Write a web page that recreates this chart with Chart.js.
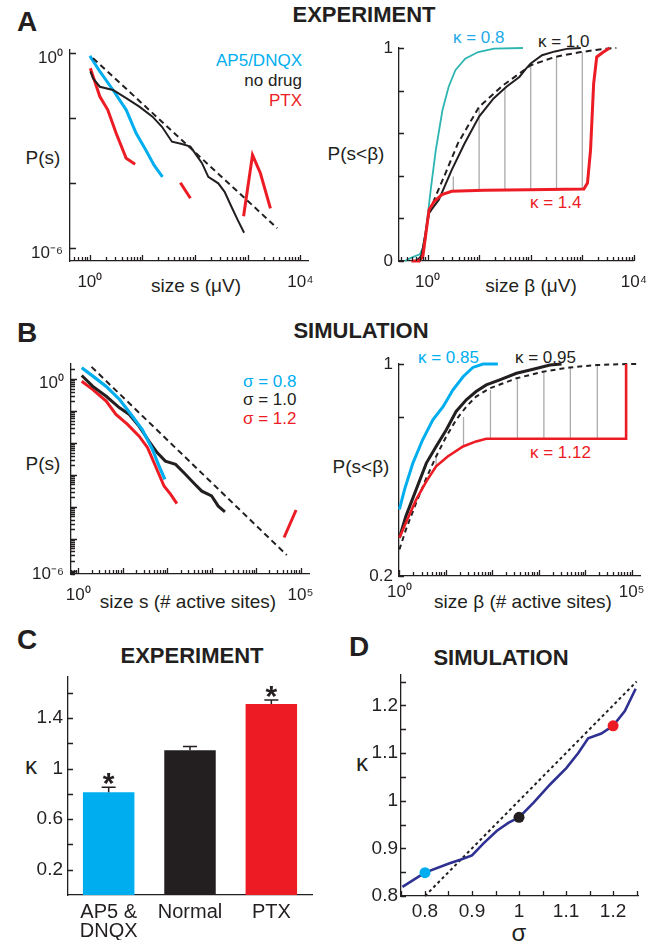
<!DOCTYPE html>
<html>
<head>
<meta charset="utf-8">
<script src="https://cdn.jsdelivr.net/npm/chart.js@4.4.1/dist/chart.umd.min.js"></script>
<style>
  body { margin: 0; background: #fff; width: 658px; height: 942px; position: relative; overflow: hidden;
         font-family: 'Liberation Sans', Arial, Helvetica, sans-serif; color: #231F20; }
  canvas { position: absolute; }
  .t { position: absolute; white-space: nowrap; transform: translate(-50%, -50%); line-height: 1; font-size: 19px; }
  .l { position: absolute; white-space: nowrap; transform: translate(0, -50%); line-height: 1; font-size: 17px; }
  .r { position: absolute; white-space: nowrap; transform: translate(-100%, -50%); line-height: 1; font-size: 17px; }
  .pl { font-weight: bold; font-size: 28px; }
  .ttl { font-weight: bold; font-size: 22px; }
</style>
</head>
<body>

<div class="t pl" style="left:27px;top:22px">A</div>
<div class="t ttl" style="left:364px;top:15px">EXPERIMENT</div>
<div class="t pl" style="left:27px;top:333px">B</div>
<div class="t ttl" style="left:361px;top:331px">SIMULATION</div>
<div class="t pl" style="left:27px;top:640px">C</div>
<div class="t ttl" style="left:192px;top:656px">EXPERIMENT</div>
<div class="t pl" style="left:359px;top:647px">D</div>
<div class="t ttl" style="left:501px;top:658px">SIMULATION</div>

<div class="t" style="left:43px;top:157px">P(s)</div>
<div class="t" style="left:196px;top:285px">size s (μV)</div>
<div class="t" style="left:356px;top:153px">P(s&lt;β)</div>
<div class="t" style="left:531px;top:285px">size β (μV)</div>
<div class="t" style="left:43px;top:463px">P(s)</div>
<div class="t" style="left:188px;top:601px">size s (# active sites)</div>
<div class="t" style="left:361px;top:466px">P(s&lt;β)</div>
<div class="t" style="left:523px;top:601px">size β (# active sites)</div>
<div class="t" style="left:31px;top:766px;font-size:24px">κ</div>
<div class="t" style="left:362px;top:763px;font-size:24px">κ</div>
<div class="t" style="left:519px;top:933px;font-size:24px">σ</div>

<div class="r" style="left:302px;top:60px;color:#00AEEF">AP5/DNQX</div>
<div class="r" style="left:302px;top:80px">no drug</div>
<div class="r" style="left:302px;top:100px;color:#ED1C24">PTX</div>
<div class="l" style="left:453px;top:37px;color:#1EAAE8">κ = 0.8</div>
<div class="l" style="left:538px;top:41px">κ = 1.0</div>
<div class="l" style="left:530px;top:202px;color:#ED1C24">κ = 1.4</div>
<div class="l" style="left:243px;top:381px;color:#00AEEF">σ = 0.8</div>
<div class="l" style="left:243px;top:399px">σ = 1.0</div>
<div class="l" style="left:243px;top:418px;color:#ED1C24">σ = 1.2</div>
<div class="l" style="left:418px;top:357px;color:#00AEEF">κ = 0.85</div>
<div class="l" style="left:515px;top:357px">κ = 0.95</div>
<div class="l" style="left:530px;top:452px;color:#ED1C24">κ = 1.12</div>

<script>
// ---- data (sizes and probabilities in log10 units where the axis is logarithmic) ----
// A, left: P(s), experiment
const fitA_logS = [0.06, 3.56];
const fitA_logP = [-0.16, -5.39];
const apA_logS = [0, 0.19, 0.44, 0.69, 0.88, 1.06, 1.22, 1.38];
const apA_logP = [-0.09, -0.57, -1.14, -1.75, -2.47, -2.98, -3.45, -3.81];
const normA_logS = [0.01, 0.06, 0.19, 0.44, 0.69, 0.94, 1.19, 1.37, 1.56, 1.75, 1.91, 2.0, 2.13, 2.25, 2.44, 2.56, 2.69, 2.81, 2.93];
const normA_logP = [-0.57, -0.78, -1.04, -1.14, -1.39, -1.65, -1.96, -2.27, -2.73, -2.80, -2.88, -3.09, -3.39, -3.81, -4.01, -4.27, -4.73, -5.14, -5.53];
const ptxA_logS1 = [0.01, 0.19, 0.34, 0.5, 0.69, 0.86];
const ptxA_logP1 = [-0.47, -1.34, -1.75, -2.47, -3.24, -3.42];
const ptxA_logS2 = [1.72, 1.91];
const ptxA_logP2 = [-3.99, -4.47];
const ptxA_logS3 = [2.92, 3.09, 3.24, 3.43];
const ptxA_logP3 = [-5.02, -3.14, -3.70, -4.78];

// A, right: P(s<beta), experiment
const apCdf_logB = [-0.44, -0.31, -0.15, -0.09, -0.04, 0.01, 0.07, 0.16, 0.29, 0.41, 0.54, 0.73, 0.98, 1.29, 1.85];
const apCdf = [0, 0.016, 0.031, 0.062, 0.132, 0.226, 0.35, 0.52, 0.709, 0.818, 0.896, 0.95, 0.981, 0.997, 1.0];
const normCdf_logB = [-0.22, -0.12, -0.06, 0.03, 0.22, 0.47, 0.72, 1.0, 1.28, 1.53, 1.78, 1.91, 2.0, 2.22, 2.47, 2.72, 2.97];
const normCdf = [0, 0.023, 0.101, 0.226, 0.288, 0.428, 0.553, 0.678, 0.763, 0.818, 0.864, 0.903, 0.927, 0.966, 0.984, 0.997, 1.0];
const fitCdf_logB = [-0.16, -0.06, 0, 0.13, 0.35, 0.59, 1.0, 1.47, 2.0, 2.47, 2.97, 3.47, 3.66];
const fitCdf = [0, 0.07, 0.195, 0.288, 0.413, 0.553, 0.724, 0.826, 0.919, 0.958, 0.981, 0.997, 1.0];
const ptxCdf_logB = [-0.31, -0.16, -0.09, -0.03, 0.03, 0.13, 0.28, 0.47, 1.1, 1.97, 3.03, 3.1, 3.16, 3.22, 3.28, 3.41, 3.53];
const ptxCdf = [0, 0, 0.023, 0.132, 0.241, 0.28, 0.312, 0.327, 0.332, 0.335, 0.338, 0.366, 0.522, 0.833, 0.958, 0.981, 1.0];
const gapA_logB = [0.5, 1.0, 1.5, 2.0, 2.5, 3.0];
const gapA_lo = [0.332, 0.333, 0.335, 0.336, 0.336, 0.338];
const gapA_hi = [0.397, 0.717, 0.815, 0.919, 0.955, 0.981];

// B, left: P(s), simulation
const fitB_logS = [0.30, 4.69];
const fitB_logP = [0.38, -5.51];
const s08_logS = [0.08, 0.33, 0.63, 0.93, 1.19, 1.44, 1.67, 1.82, 1.95];
const s08_logP = [0.35, 0.09, -0.23, -0.64, -1.11, -1.58, -2.20, -2.73, -3.14];
const s10_logS = [0.08, 0.33, 0.63, 0.93, 1.15, 1.37, 1.59, 1.78, 1.96, 2.19, 2.41, 2.63, 2.78, 3.0, 3.15, 3.30];
const s10_logP = [0.11, -0.23, -0.54, -0.9, -1.11, -1.48, -1.94, -2.31, -2.57, -2.67, -2.98, -3.30, -3.51, -3.66, -3.98, -4.16];
const s12_logS1 = [0.08, 0.33, 0.63, 0.85, 1.11, 1.37, 1.56, 1.74, 1.93, 2.08, 2.22];
const s12_logP1 = [-0.07, -0.33, -0.69, -1.11, -1.42, -1.79, -2.15, -2.73, -3.35, -3.61, -3.90];
const s12_logS2 = [4.63, 4.90];
const s12_logP2 = [-4.96, -4.10];

// B, right: P(s<beta), simulation
const k085_logB = [0, 0.11, 0.29, 0.50, 0.72, 0.94, 1.15, 1.37, 1.58, 1.80, 2.12];
const k085 = [0.451, 0.526, 0.626, 0.714, 0.789, 0.839, 0.902, 0.952, 0.987, 1.0, 1.0];
const k095_logB = [0, 0.14, 0.36, 0.58, 0.79, 1.01, 1.22, 1.44, 1.65, 1.87, 2.16, 2.52, 2.88, 3.24, 3.49];
const k095 = [0.344, 0.426, 0.526, 0.626, 0.689, 0.752, 0.821, 0.865, 0.896, 0.921, 0.940, 0.965, 0.980, 0.996, 1.0];
const fitSim_logB = [0, 0.14, 0.36, 0.58, 0.79, 1.01, 1.22, 1.44, 1.65, 1.94, 2.52, 3.09, 3.67, 4.24, 4.88, 5.18];
const fitSim = [0.30, 0.375, 0.476, 0.570, 0.651, 0.727, 0.789, 0.839, 0.877, 0.908, 0.946, 0.971, 0.987, 0.996, 1.0, 1.0];
const k112_logB = [0, 0.14, 0.36, 0.58, 0.79, 1.04, 1.37, 1.65, 1.87, 2.59, 4.88, 4.88];
const k112 = [0.344, 0.401, 0.488, 0.557, 0.614, 0.651, 0.689, 0.708, 0.718, 0.718, 0.718, 1.0];
const gapB_logB = [0.79, 1.38, 1.96, 2.54, 3.11, 3.68, 4.26];
const gapB_lo = [0.614, 0.689, 0.718, 0.718, 0.718, 0.718, 0.718];
const gapB_hi = [0.650, 0.800, 0.902, 0.942, 0.969, 0.986, 0.995];

// C: kappa per condition
const condLabels = [['AP5 &', 'DNQX'], 'Normal', 'PTX'];
const kappaExp = [0.814, 1.145, 1.512];
const kappaErr = [0.039, 0.031, 0.031];
const kappaStar = [true, false, true];

// D: kappa vs sigma
const sigmaSim = [0.752, 0.8, 0.851, 0.875, 0.9, 0.925, 0.953, 0.978, 1.0, 1.031, 1.066, 1.101, 1.126, 1.147, 1.175, 1.2, 1.225, 1.248];
const kappaSim = [0.819, 0.849, 0.868, 0.876, 0.885, 0.911, 0.937, 0.954, 0.965, 0.996, 1.034, 1.069, 1.1, 1.131, 1.141, 1.157, 1.188, 1.235];
const sigmaDots = [0.8, 1.0, 1.2];
const kappaDots = [0.849, 0.965, 1.157];
const unityLine = [0.8, 1.25];

// ---- styling ----
const BLUE = '#00AEEF', RED = '#ED1C24', INK = '#231F20', TEAL = '#2DB5B2', NAVY = '#2E3192', GRAY = '#ABABAB';
const FONT = "'Liberation Sans', Arial, Helvetica, sans-serif";
const SUP = { '0': '⁰', '1': '¹', '2': '²', '3': '³', '4': '⁴', '5': '⁵', '6': '⁶', '7': '⁷', '8': '⁸', '9': '⁹', '-': '⁻' };
const pow10Label = v => '10' + String(Math.round(Math.log10(v))).split('').map(ch => SUP[ch]).join('');
const plainLabel = v => String(Math.round(v * 100) / 100);

const logPts = (xs, ys) => xs.map((v, i) => ({ x: 10 ** v, y: 10 ** ys[i] }));
const semiPts = (xs, ys) => xs.map((v, i) => ({ x: 10 ** v, y: ys[i] }));
const gapPts = (xs, lo, hi) => xs.flatMap((v, i) => [{ x: 10 ** v, y: lo[i] }, { x: 10 ** v, y: hi[i] }, { x: 10 ** v, y: null }]);

function line(data, color, width, dash) {
  return { data, borderColor: color, borderWidth: width, borderDash: dash || [], pointRadius: 0, fill: false, tension: 0, clip: false };
}

function logTicks(lo, hi, min, max, major, minor) {
  const out = [];
  for (let d = lo; d <= hi; d++) {
    for (let k = 1; k <= 9; k++) {
      const v = k * 10 ** d;
      if (v >= min && v <= max) out.push([v, k === 1 ? major : minor]);
    }
  }
  return out;
}
function linTicks(from, to, step, len) {
  const out = [];
  for (let v = from; v <= to + 1e-9; v += step) out.push([v, len]);
  return out;
}

// inward tick marks, placed through the chart's own scales
function inTicks(xs, ys) {
  return {
    id: 'inTicks',
    afterDraw(chart) {
      const ctx = chart.ctx, a = chart.chartArea;
      const sx = chart.scales.x, sy = chart.scales.y;
      ctx.save();
      ctx.strokeStyle = INK;
      ctx.lineWidth = 1.3;
      ctx.beginPath();
      (xs || []).forEach(t => {
        const px = Math.round(sx.getPixelForValue(t[0])) + 0.5;
        ctx.moveTo(px, a.bottom);
        ctx.lineTo(px, a.bottom - t[1]);
      });
      (ys || []).forEach(t => {
        const py = Math.round(sy.getPixelForValue(t[0])) + 0.5;
        ctx.moveTo(a.left, py);
        ctx.lineTo(a.left + t[1], py);
      });
      ctx.stroke();
      ctx.restore();
    }
  };
}

// error bars + significance stars for panel C
const errBars = {
  id: 'errBars',
  afterDatasetsDraw(chart) {
    const ctx = chart.ctx, meta = chart.getDatasetMeta(0), ys = chart.scales.y;
    ctx.save();
    ctx.strokeStyle = INK;
    ctx.fillStyle = INK;
    ctx.lineWidth = 1.5;
    meta.data.forEach((bar, i) => {
      const top = ys.getPixelForValue(kappaExp[i] + kappaErr[i]);
      ctx.beginPath();
      ctx.moveTo(bar.x, bar.y); ctx.lineTo(bar.x, top);
      ctx.moveTo(bar.x - 7, top); ctx.lineTo(bar.x + 7, top);
      ctx.stroke();
      if (kappaStar[i]) {
        ctx.font = 'bold 30px ' + FONT;
        ctx.textAlign = 'center';
        ctx.textBaseline = 'alphabetic';
        ctx.fillText('*', bar.x, top + 6);
      }
    });
    ctx.restore();
  }
};

function axis(type, min, max, labels, size, pad, fmt) {
  const ax = {
    type,
    grid: { display: false, drawTicks: false },
    border: { display: true, color: INK, width: 1.3 },
    ticks: { color: INK, font: { family: FONT, size }, padding: pad, autoSkip: false, maxRotation: 0, minRotation: 0 }
  };
  if (min !== undefined) { ax.min = min; ax.max = max; }
  if (labels) ax.afterBuildTicks = s => { s.ticks = labels.map(v => ({ value: v })); };
  if (fmt) ax.ticks.callback = fmt;
  return ax;
}

function makeChart(box, area, yw, xh, cfg) {
  const c = document.createElement('canvas');
  c.width = box.w; c.height = box.h;
  Object.assign(c.style, { left: box.l + 'px', top: box.t + 'px', width: box.w + 'px', height: box.h + 'px' });
  document.body.appendChild(c);
  cfg.options.responsive = false;
  cfg.options.animation = false;
  cfg.options.layout = { padding: {
    left: area.l - box.l - yw, top: area.t - box.t,
    right: box.l + box.w - area.r, bottom: box.t + box.h - area.b - xh } };
  cfg.options.scales.x.afterFit = s => { s.height = xh; };
  cfg.options.scales.y.afterFit = s => { s.width = yw; };
  cfg.options.plugins = { legend: { display: false }, tooltip: { enabled: false } };
  return new Chart(c, cfg);
}

// ---- A left ----
{
  const xa = axis('logarithmic', 0.42, 14500, [1, 1e4], 17, 11, pow10Label);
  const ya = axis('logarithmic', 4e-7, 1.23, [1, 1e-6], 17, 7, pow10Label);
  ya.ticks.labelOffset = 5;
  makeChart({ l: 0, t: 30, w: 325, h: 275 }, { l: 70, t: 50, r: 312, b: 261 }, 40, 30, {
    type: 'line',
    data: { datasets: [
      line(logPts(fitA_logS, fitA_logP), INK, 2, [6, 4]),
      line(logPts(normA_logS, normA_logP), INK, 2),
      line(logPts(apA_logS, apA_logP), BLUE, 3),
      line(logPts(ptxA_logS1, ptxA_logP1), RED, 3),
      line(logPts(ptxA_logS2, ptxA_logP2), RED, 3),
      line(logPts(ptxA_logS3, ptxA_logP3), RED, 3)
    ] },
    options: { scales: { x: xa, y: ya } },
    plugins: [inTicks(logTicks(-1, 4, 0.42, 14500, 6, 4), [[1, 6], [1e-2, 6], [1e-4, 6], [1e-6, 6]])]
  });
}

// ---- A right ----
{
  const xa = axis('logarithmic', 0.28, 10000, [1, 1e4], 17, 11, pow10Label);
  const ya = axis('linear', 0, 1, [0, 1], 17, 6, plainLabel);
  makeChart({ l: 325, t: 30, w: 333, h: 275 }, { l: 399, t: 48, r: 640, b: 261 }, 20, 30, {
    type: 'line',
    data: { datasets: [
      line(semiPts(ptxCdf_logB, ptxCdf), RED, 3),
      line(semiPts(fitCdf_logB, fitCdf), INK, 2, [6, 4]),
      line(semiPts(normCdf_logB, normCdf), INK, 2),
      line(semiPts(apCdf_logB, apCdf), TEAL, 1.8),
      line(gapPts(gapA_logB, gapA_lo, gapA_hi), GRAY, 1.3)
    ] },
    options: { scales: { x: xa, y: ya } },
    plugins: [inTicks(logTicks(-1, 4, 0.28, 10000, 6, 4), linTicks(0, 1, 0.2, 5))]
  });
}

// ---- B left ----
{
  const xa = axis('logarithmic', 0.69, 155000, [1, 1e5], 17, 11, pow10Label);
  const ya = axis('logarithmic', 7.9e-7, 2.95, [1, 1e-6], 17, 7, pow10Label);
  ya.ticks.labelOffset = 4;
  makeChart({ l: 0, t: 310, w: 325, h: 310 }, { l: 71, t: 364, r: 312, b: 574 }, 40, 30, {
    type: 'line',
    data: { datasets: [
      line(logPts(fitB_logS, fitB_logP), INK, 2, [6, 4]),
      line(logPts(s08_logS, s08_logP), BLUE, 3.2),
      line(logPts(s10_logS, s10_logP), INK, 3),
      line(logPts(s12_logS1, s12_logP1), RED, 3),
      line(logPts(s12_logS2, s12_logP2), RED, 3)
    ] },
    options: { scales: { x: xa, y: ya } },
    plugins: [inTicks(logTicks(-1, 5, 0.69, 155000, 6, 4), logTicks(-7, 0, 7.9e-7, 2.95, 6, 4))]
  });
}

// ---- B right ----
{
  const xa = axis('logarithmic', 0.98, 151000, [1, 1e5], 17, 6, pow10Label);
  const ya = axis('linear', 0.2, 1, [0.2, 1], 17, 6, plainLabel);
  makeChart({ l: 325, t: 310, w: 333, h: 310 }, { l: 399, t: 364, r: 640, b: 576 }, 30, 30, {
    type: 'line',
    data: { datasets: [
      line(semiPts(k112_logB, k112), RED, 2.6),
      line(semiPts(k095_logB, k095), INK, 3),
      line(semiPts(fitSim_logB, fitSim), INK, 2, [5, 4]),
      line(semiPts(k085_logB, k085), BLUE, 3),
      line(gapPts(gapB_logB, gapB_lo, gapB_hi), GRAY, 1.3)
    ] },
    options: { scales: { x: xa, y: ya } },
    plugins: [inTicks(logTicks(0, 5, 0.98, 151000, 6, 4), [[0.2, 5], [0.8, 5], [1, 5]])]
  });
}

// ---- C ----
{
  const xa = axis('category', undefined, undefined, null, 20, 8);
  xa.ticks.font.lineHeight = 0.95;
  const ya = axis('linear', 0, 1.73, [0.2, 0.6, 1, 1.4], 19, 5, plainLabel);
  makeChart({ l: 0, t: 660, w: 325, h: 282 }, { l: 68, t: 672, r: 312, b: 895 }, 45, 45, {
    type: 'bar',
    data: { labels: condLabels, datasets: [{
      data: kappaExp, backgroundColor: [BLUE, INK, RED], borderWidth: 0,
      barPercentage: 0.633, categoryPercentage: 1
    }] },
    options: { scales: { x: xa, y: ya } },
    plugins: [inTicks(null, linTicks(0.2, 1.6, 0.2, 5)), errBars]
  });
}

// ---- D ----
{
  const xa = axis('linear', 0.749, 1.253, [0.8, 0.9, 1, 1.1, 1.2], 19, 4, plainLabel);
  const ya = axis('linear', 0.8, 1.265, [0.8, 0.9, 1, 1.1, 1.2], 19, 3, plainLabel);
  makeChart({ l: 330, t: 660, w: 328, h: 282 }, { l: 401, t: 672, r: 638, b: 896 }, 40, 25, {
    type: 'line',
    data: { datasets: [
      { type: 'scatter', data: sigmaDots.map((v, i) => ({ x: v, y: kappaDots[i] })),
        pointRadius: 5.5, pointBackgroundColor: [BLUE, INK, RED], pointBorderWidth: 0, showLine: false, clip: false },
      line(sigmaSim.map((v, i) => ({ x: v, y: kappaSim[i] })), NAVY, 2.6),
      line(unityLine.map(v => ({ x: v, y: v })), INK, 2, [3, 3])
    ] },
    options: { scales: { x: xa, y: ya } },
    plugins: [inTicks(linTicks(0.75, 1.25, 0.05, 5), linTicks(0.8, 1.25, 0.05, 5))]
  });
}
</script>
</body>
</html>
